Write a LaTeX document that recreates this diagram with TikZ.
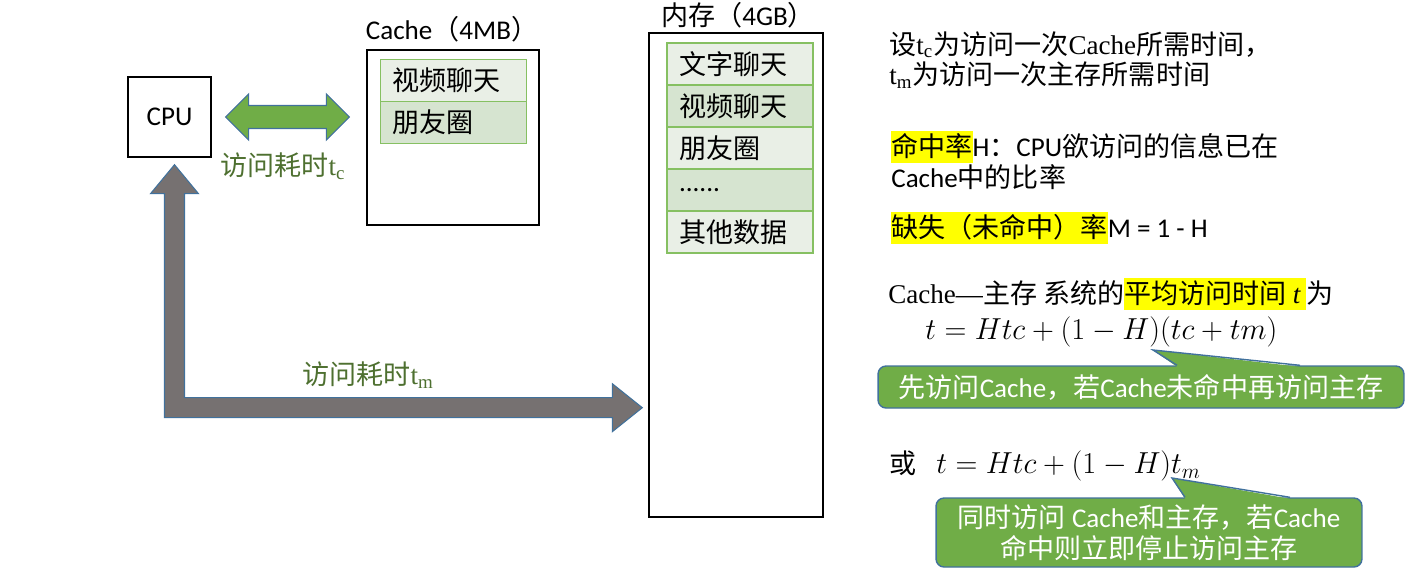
\documentclass[tikz,border=0pt]{standalone}
\usepackage{fontspec}
\setmainfont{Noto Sans CJK SC}
\newfontfamily\lat{Carlito}
\newfontfamily\tms{Liberation Serif}
\usepackage{tikz}
\usetikzlibrary{positioning,calc}
\definecolor{boxgreen}{HTML}{70AD47}
\definecolor{edgeblue}{HTML}{41719C}
\definecolor{arrowgray}{HTML}{767171}
\definecolor{labelgreen}{HTML}{4E7030}
\definecolor{rowlight}{HTML}{E9EFE6}
\definecolor{rowdark}{HTML}{D6E4D0}
\definecolor{rowedge}{HTML}{86C062}
\definecolor{marker}{HTML}{FFFF00}
\newcommand\tsub[1]{{\tms t\textsubscript{#1}}}
\newcommand\hlt[1]{{\setlength{\fboxsep}{0pt}\colorbox{marker}{\rule[-0.25em]{0pt}{1.2em}#1}}}
\tikzset{
  membox/.style={rectangle,draw=black,line width=0.8pt,fill=white},
  rowbox/.style={rectangle,draw=rowedge,line width=0.8pt,outer sep=0pt,text width=2.44cm,inner xsep=0.24cm,minimum height=0.84cm,align=left},
  note/.style={anchor=west,align=left,inner sep=0pt},
  formula/.style={note,font=\fontsize{16.5}{19}\selectfont},
  calloutbox/.style={rectangle,rounded corners=0.16cm,fill=boxgreen,draw=edgeblue,line width=0.8pt,text=white,align=center,inner sep=0pt},
  timelabel/.style={text=labelgreen},
  bigarrow/.style={draw=edgeblue,line width=0.6pt,line join=miter}
}

\begin{document}
\begin{tikzpicture}[x=0.02cm,y=-0.02cm,font=\fontsize{15.4}{17.5}\selectfont]
  \useasboundingbox (0,0) rectangle (1417,572);

  % CPU, Cache and main memory
  \node[membox,minimum width=1.66cm,minimum height=1.6cm] (cpu) at (169.5,117) {\lat CPU};
  \node[membox,minimum width=3.44cm,minimum height=3.5cm] (cache) at (453,137.5) {};
  \node[membox,minimum width=3.48cm,minimum height=9.68cm] (mem) at (736,275) {};
  \node (cachetitle) at (452,29) {{\lat Cache}（{\lat 4MB}）};
  \node (memtitle) at (738,15) {内存（{\lat 4GB}）};

  \node[rowbox,fill=rowlight] (c1) at (453.5,80.5) {视频聊天};
  \node[rowbox,fill=rowdark,below=0pt of c1] (c2) {朋友圈};

  \foreach \txt/\shade [count=\i] in {文字聊天/rowlight,视频聊天/rowdark,朋友圈/rowlight,{\lat ......}/rowdark,其他数据/rowlight}
    \node[rowbox,fill=\shade] (m\i) at (740,{64+42*(\i-1)}) {\txt};

  % CPU <-> Cache
  \coordinate (cl) at ($(cpu.east)+(14,0)$);
  \coordinate (cr) at ($(cache.west |- cpu.east)+(-17,0)$);
  \filldraw[bigarrow,fill=boxgreen] (cl) -- ($(cl)+(23,-23)$) -- ($(cl)+(23,-11.5)$) -- ($(cr)+(-23,-11.5)$)
    -- ($(cr)+(-23,-23)$) -- (cr) -- ($(cr)+(-23,23)$) -- ($(cr)+(-23,11.5)$)
    -- ($(cl)+(23,11.5)$) -- ($(cl)+(23,23)$) -- cycle;
  \node[timelabel] (lblc) at (283,166) {访问耗时\tsub{c}};

  % CPU <-> memory
  \coordinate (up) at ($(cpu.south)+(5,7)$);
  \coordinate (bend) at ($(cpu.south)+(5,250)$);
  \coordinate (rt) at ($(bend -| mem.west)+(-6,0)$);
  \filldraw[bigarrow,fill=arrowgray] (up) -- ($(up)+(24,29)$) -- ($(up)+(10,29)$) |- ($(rt)+(-30,-10)$)
    -- ($(rt)+(-30,-24)$) -- (rt) -- ($(rt)+(-30,24)$) -- ($(rt)+(-30,10)$)
    -| ($(up)+(-10,29)$) -- ($(up)+(-24,29)$) -- cycle;
  \node[timelabel] (lblm) at (368,375) {访问耗时\tsub{m}};

  % notes on the right
  \node[note] (def) at (889,60) {设\tsub{c}为访问一次{\tms Cache}所需时间，\\\tsub{m}为访问一次主存所需时间};
  \node[note] (hit) at (891,160) {\hlt{命中率}{\lat H}：{\lat CPU}欲访问的信息已在\\{\lat Cache}中的比率};
  \node[note] (miss) at (891,228) {\hlt{缺失（未命中）率}{\lat M = 1 - H}};
  \node[note] (avg) at (888,294) {{\tms Cache—}主存 系统的\hlt{平均访问时间 {\tms\itshape t} }为};
  \node[formula] (f1) at (925,332) {$t=Htc+(1-H)(tc+tm)$};
  \node[note] (f2) at (889,466) {或\hspace{0.4cm}{\fontsize{16.5}{19}\selectfont$t=Htc+(1-H)t_m$}};

  % callouts
  \node[calloutbox,minimum width=10.52cm,minimum height=0.84cm] (tip1) at (1141,387)
    {先访问{\lat Cache}，若{\lat Cache}未命中再访问主存};
  \coordinate (p1) at (1153,350);
  \fill[boxgreen] (p1) -- ($(tip1.north)+(36,1.5)$) -- ($(tip1.north)+(159,1.5)$) -- cycle;
  \draw[edgeblue,line width=0.8pt] ($(tip1.north)+(36,0)$) -- (p1) -- ($(tip1.north)+(159,0)$);

  \node[calloutbox,minimum width=8.52cm,minimum height=1.38cm] (tip2) at (1149,532.5)
    {同时访问 {\lat Cache}和主存，若{\lat Cache}\\命中则立即停止访问主存};
  \coordinate (p2) at (1172,478);
  \fill[boxgreen] (p2) -- ($(tip2.north)+(36,1.5)$) -- ($(tip2.north)+(141,1.5)$) -- cycle;
  \draw[edgeblue,line width=0.8pt] ($(tip2.north)+(36,0)$) -- (p2) -- ($(tip2.north)+(141,0)$);
\end{tikzpicture}
\end{document}
